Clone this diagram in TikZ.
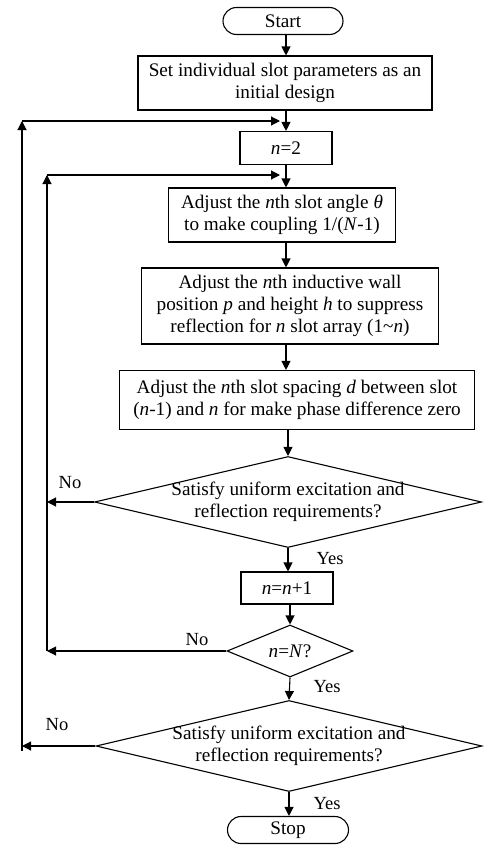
\documentclass[tikz,border=0pt]{standalone}
\usepackage{fontspec}
\setmainfont{Liberation Serif}
\usepackage{tikz}
\usetikzlibrary{arrows.meta}
\usetikzlibrary{shapes.geometric}
\usetikzlibrary{shapes.misc}
\tikzset{
	box/.style={draw,line width=1.1pt,align=center,inner sep=0pt},
	term/.style={box,rounded rectangle},
	decide/.style={box,diamond,inner xsep=0pt,inner ysep=-5pt},
	arr/.style={line width=1.1pt,-{Triangle[length=9pt,width=9pt]}},
	lbl/.style={font=\fontsize{18.5}{20}\selectfont},
}
\begin{document}
\begin{tikzpicture}[x=1pt,y=-1pt,font=\fontsize{19.2}{22}\selectfont]
	\useasboundingbox (0,0) rectangle (484,846);
	\coordinate (axis) at (286,0);

	\node[term,minimum width=120,minimum height=27] (start) at (283,21) {Start};
	\node[box,minimum width=294,minimum height=54] (init) at (285,83) {Set individual slot parameters as an\\initial design};
	\node[box,minimum width=92,minimum height=33] (first) at (286,148) {\textit{n}=2};
	\node[box,minimum width=227,minimum height=54] (angle) at (282,215) {Adjust the \textit{n}th slot angle \textit{θ}\\to make coupling 1/(\textit{N}-1)};
	\node[box,minimum width=297,minimum height=76] (wall) at (290,306) {Adjust the \textit{n}th inductive wall\\position \textit{p} and height \textit{h} to suppress\\reflection for \textit{n} slot array (1\textasciitilde\textit{n})};
	\node[box,minimum width=355,minimum height=59] (space) at (297,400) {Adjust the \textit{n}th slot spacing \textit{d} between slot\\(\textit{n}-1) and \textit{n} for make phase difference zero};
	\node[decide,aspect=4.25,minimum width=387,minimum height=91] (check1) at (288,502) {Satisfy uniform excitation and\\reflection requirements?};
	\node[box,minimum width=92,minimum height=32] (incr) at (287,588) {\textit{n}=\textit{n}+1};
	\node[decide,inner ysep=0pt,aspect=2.4,minimum width=126,minimum height=52] (last) at (290,651) {\textit{n}=\textit{N}?};
	\node[decide,aspect=4.25,minimum width=386,minimum height=91] (check2) at (289,746) {Satisfy uniform excitation and\\reflection requirements?};
	\node[term,minimum width=121,minimum height=27] (stop) at (288,830) {Stop};

	% main flow
	\draw[arr] (start.south -| axis) -- (init.north -| axis);
	\draw[arr] (init.south -| axis) -- (first.north -| axis);
	\draw[arr] (first.south -| axis) -- (angle.north -| axis);
	\draw[arr] (angle.south -| axis) -- (wall.north -| axis);
	\draw[arr] (wall.south -| axis) -- (space.north -| axis);
	\draw[arr] (space.south -| check1.north) -- (check1.north);
	\draw[arr] (check1.south) -- (incr.north -| check1.south);
	\draw[arr] (incr.south -| last.north) -- (last.north);
	\draw[arr] (last.south) -- (check2.north);
	\draw[arr] (check2.south) -- (stop.north -| check2.south);

	% inner loop
	\coordinate (in1) at (47,502);
	\coordinate (in2) at (47,175);
	\coordinate (in3) at (280,175);
	\draw[arr] (check1.west) -- (in1);
	\draw[arr] (last.west) -- (last.west -| in1);
	\draw[line width=1.1pt] (last.west -| in1) -- (in1);
	\draw[arr] (in1) -- (in2);
	\draw[arr] (in2) -- (in3);

	% outer loop
	\coordinate (out1) at (22,746);
	\coordinate (out2) at (22,121);
	\coordinate (out3) at (280,121);
	\draw[arr] (check2.west) -- (out1);
	\draw[line width=1.1pt] (out1) -- ++(0,5);
	\draw[arr] (out1) -- (out2);
	\draw[arr] (out2) -- (out3);

	\node[lbl] (no1) at (70,483) {No};
	\node[lbl] (yes1) at (330,559) {Yes};
	\node[lbl] (no2) at (197,640) {No};
	\node[lbl] (yes2) at (327,687) {Yes};
	\node[lbl] (no3) at (57,725) {No};
	\node[lbl] (yes3) at (327,804) {Yes};
\end{tikzpicture}
\end{document}
